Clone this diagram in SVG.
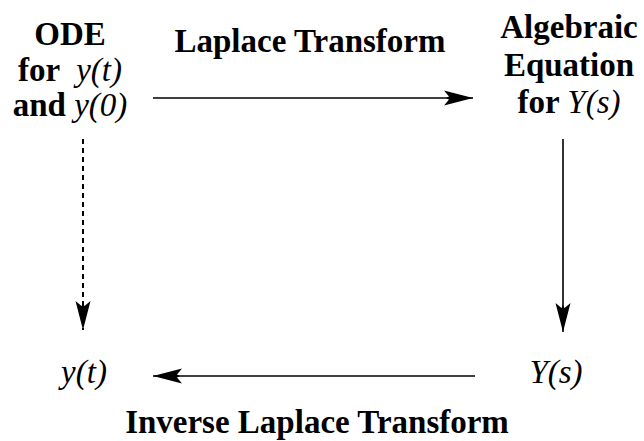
<svg xmlns="http://www.w3.org/2000/svg" width="644" height="441" viewBox="0 0 644 441">
<style>
text{font-family:"Liberation Serif",Tinos,"Times New Roman",Times,"Nimbus Roman","Noto Serif","DejaVu Serif",FreeSerif,serif;fill:#000;text-anchor:middle}
.b{font-weight:bold;font-size:33px}
.i{font-style:italic;font-weight:normal}
.it{font-style:italic;font-size:33px}
.ln{stroke:#000;stroke-width:1.6;fill:none}
.dash{stroke:#000;stroke-width:2;fill:none;stroke-dasharray:5 4}
</style>
<defs>
<marker id="ah" markerUnits="userSpaceOnUse" markerWidth="32" markerHeight="18" viewBox="-30 -9 32 18" refX="0" refY="0" orient="auto">
<path d="M0,0 L-29,-7.5 L-24,-1.5 L-27,0 L-24,1.5 L-29,7.5 Z" fill="#000"/>
</marker>
</defs>
<g id="ode">
<text class="b" x="70" y="45">ODE</text>
<text class="b" x="70" y="81">for <tspan class="i">&#160;y(t)</tspan></text>
<text class="b" x="70" y="116">and <tspan class="i">y(0)</tspan></text>
</g>
<g id="algebraic">
<text class="b" x="569" y="38">Algebraic</text>
<text class="b" x="569" y="76">Equation</text>
<text class="b" x="569" y="113">for <tspan class="i">Y(s)</tspan></text>
</g>
<g id="yt">
<text class="it" x="84" y="383">y(t)</text>
</g>
<g id="Ys">
<text class="it" x="556" y="383">Y(s)</text>
</g>
<g id="labels">
<text class="b" x="310" y="52">Laplace Transform</text>
<text class="b" x="317" y="433">Inverse Laplace Transform</text>
</g>
<g id="connectors">
<line class="ln" x1="153" y1="98" x2="473" y2="98" marker-end="url(#ah)"/>
<line class="ln" x1="563" y1="139" x2="563" y2="332" marker-end="url(#ah)"/>
<line class="ln" x1="475" y1="376" x2="153" y2="376" marker-end="url(#ah)"/>
<line class="dash" x1="83" y1="139" x2="83" y2="330" marker-end="url(#ah)"/>
</g>
</svg>
